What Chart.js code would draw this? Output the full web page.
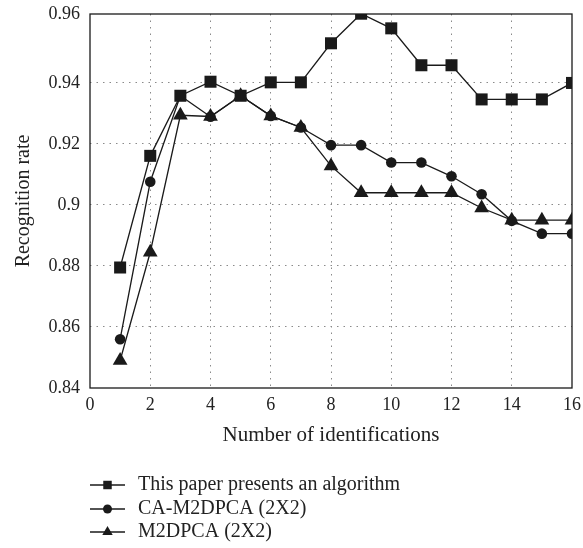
<!DOCTYPE html>
<html>
<head>
<meta charset="utf-8">
<script src="https://cdn.jsdelivr.net/npm/chart.js@4/dist/chart.umd.min.js"></script>
<style>
    html, body { margin: 0; padding: 0; background: #fff; }
    #wrap { width: 583px; height: 548px; }
</style>
</head>
<body>
<div id="wrap"><canvas id="recognitionChart" width="583" height="548"></canvas></div>
<script>
// البيانات
const identifications = [1, 2, 3, 4, 5, 6, 7, 8, 9, 10, 11, 12, 13, 14, 15, 16];
const proposedRates = [0.8795, 0.9161, 0.9358, 0.9404, 0.9358, 0.9402, 0.9402, 0.9530, 0.9627, 0.9579, 0.9458, 0.9458, 0.9346, 0.9346, 0.9346, 0.9400];
const caM2dpcaRates = [0.8560, 0.9076, 0.9358, 0.9289, 0.9358, 0.9292, 0.9254, 0.9196, 0.9196, 0.9139, 0.9139, 0.9094, 0.9035, 0.8948, 0.8906, 0.8906];
const m2dpcaRates = [0.8490, 0.8845, 0.9294, 0.9290, 0.9358, 0.9292, 0.9254, 0.9128, 0.9040, 0.9040, 0.9040, 0.9040, 0.8990, 0.8950, 0.8950, 0.8950];
const seriesNames = ['This paper presents an algorithm', 'CA-M2DPCA (2X2)', 'M2DPCA (2X2)'];
const xTickValues = [0, 2, 4, 6, 8, 10, 12, 14, 16];
const yTickValues = [0.84, 0.86, 0.88, 0.9, 0.92, 0.94, 0.9626];
const yTickLabels = ['0.84', '0.86', '0.88', '0.9', '0.92', '0.94', '0.96'];

const FONT = "'Liberation Serif', 'DejaVu Serif', serif";
const INK = '#1a1a1a';

function toPoints(values) {
    return identifications.map((x, i) => ({ x: x, y: values[i] }));
}

function makeDataset(label, values, style, radius) {
    return {
        label: label,
        data: toPoints(values),
        borderColor: INK,
        backgroundColor: INK,
        borderWidth: 1.3,
        pointStyle: style,
        pointRadius: radius,
        pointBorderWidth: 0,
        pointBackgroundColor: INK,
        tension: 0
    };
}

// إطار المخطط
const framePlugin = {
    id: 'frame',
    afterDatasetsDraw(chart) {
        const { ctx, chartArea: a } = chart;
        ctx.save();
        ctx.strokeStyle = INK;
        ctx.lineWidth = 1.3;
        ctx.strokeRect(a.left, a.top, a.right - a.left, a.bottom - a.top);
        ctx.restore();
    }
};

// وسيلة الإيضاح (خط مع علامة)
const legendPlugin = {
    id: 'lineLegend',
    afterDraw(chart) {
        const ctx = chart.ctx;
        const rows = [485, 509, 532];
        const sizes = [6, 4.5, 6];
        ctx.save();
        chart.data.datasets.forEach((ds, i) => {
            const y = rows[i];
            ctx.strokeStyle = INK;
            ctx.lineWidth = 1.3;
            ctx.beginPath();
            ctx.moveTo(90, y);
            ctx.lineTo(125, y);
            ctx.stroke();
            ctx.fillStyle = INK;
            Chart.helpers.drawPoint(ctx, {
                pointStyle: ds.pointStyle,
                radius: sizes[i],
                borderWidth: 0,
                rotation: 0
            }, 107.5, y);
            ctx.fillStyle = '#222';
            ctx.font = '20px ' + FONT;
            ctx.textBaseline = 'middle';
            ctx.textAlign = 'left';
            ctx.fillText(ds.label, 138, y);
        });
        ctx.restore();
    }
};

function isEdge(value, scale) {
    return Math.abs(value - scale.min) < 1e-6 || Math.abs(value - scale.max) < 1e-6;
}

// إلغاء الحشو التلقائي للمحاور حتى يبقى موضع منطقة الرسم ثابتاً
function clearAutoPadding(scale) {
    scale.paddingTop = 0;
    scale.paddingBottom = 0;
    scale.paddingLeft = 0;
    scale.paddingRight = 0;
}

const ctx = document.getElementById('recognitionChart').getContext('2d');
const chart = new Chart(ctx, {
    type: 'line',
    data: {
        datasets: [
            makeDataset(seriesNames[0], proposedRates, 'rect', 8.5),
            makeDataset(seriesNames[1], caM2dpcaRates, 'circle', 5.3),
            makeDataset(seriesNames[2], m2dpcaRates, 'triangle', 8.5)
        ]
    },
    options: {
        responsive: false,
        animation: false,
        layout: { padding: { left: 0, right: 11, top: 14, bottom: 100 } },
        plugins: {
            legend: { display: false },
            tooltip: { enabled: false }
        },
        scales: {
            x: {
                type: 'linear',
                min: 0,
                max: 16,
                afterBuildTicks(scale) {
                    scale.ticks = xTickValues.map(v => ({ value: v }));
                },
                afterFit(scale) {
                    scale.height = 60;
                    clearAutoPadding(scale);
                },
                ticks: {
                    color: '#222',
                    font: { family: FONT, size: 18 },
                    padding: 6,
                    maxRotation: 0
                },
                grid: {
                    drawTicks: false,
                    color: ctx => isEdge(ctx.tick.value, ctx.scale) ? 'rgba(0,0,0,0)' : '#8a8a8a',
                    lineWidth: 1
                },
                border: { display: false, dash: [1.5, 5] },
                title: {
                    display: true,
                    text: 'Number of identifications',
                    color: '#222',
                    font: { family: FONT, size: 21 },
                    padding: 0
                }
            },
            y: {
                type: 'linear',
                min: 0.84,
                max: 0.9626,
                afterBuildTicks(scale) {
                    scale.ticks = yTickValues.map(v => ({ value: v }));
                },
                afterFit(scale) {
                    scale.width = 90;
                    clearAutoPadding(scale);
                },
                ticks: {
                    color: '#222',
                    font: { family: FONT, size: 18 },
                    padding: 10,
                    callback: (value, index) => yTickLabels[index]
                },
                grid: {
                    drawTicks: false,
                    color: ctx => isEdge(ctx.tick.value, ctx.scale) ? 'rgba(0,0,0,0)' : '#8a8a8a',
                    lineWidth: 1
                },
                border: { display: false, dash: [1.5, 5] },
                title: {
                    display: true,
                    text: 'Recognition rate',
                    color: '#222',
                    font: { family: FONT, size: 20 },
                    padding: { top: 12, bottom: 0 }
                }
            }
        }
    },
    plugins: [framePlugin, legendPlugin]
});
</script>
</body>
</html>
